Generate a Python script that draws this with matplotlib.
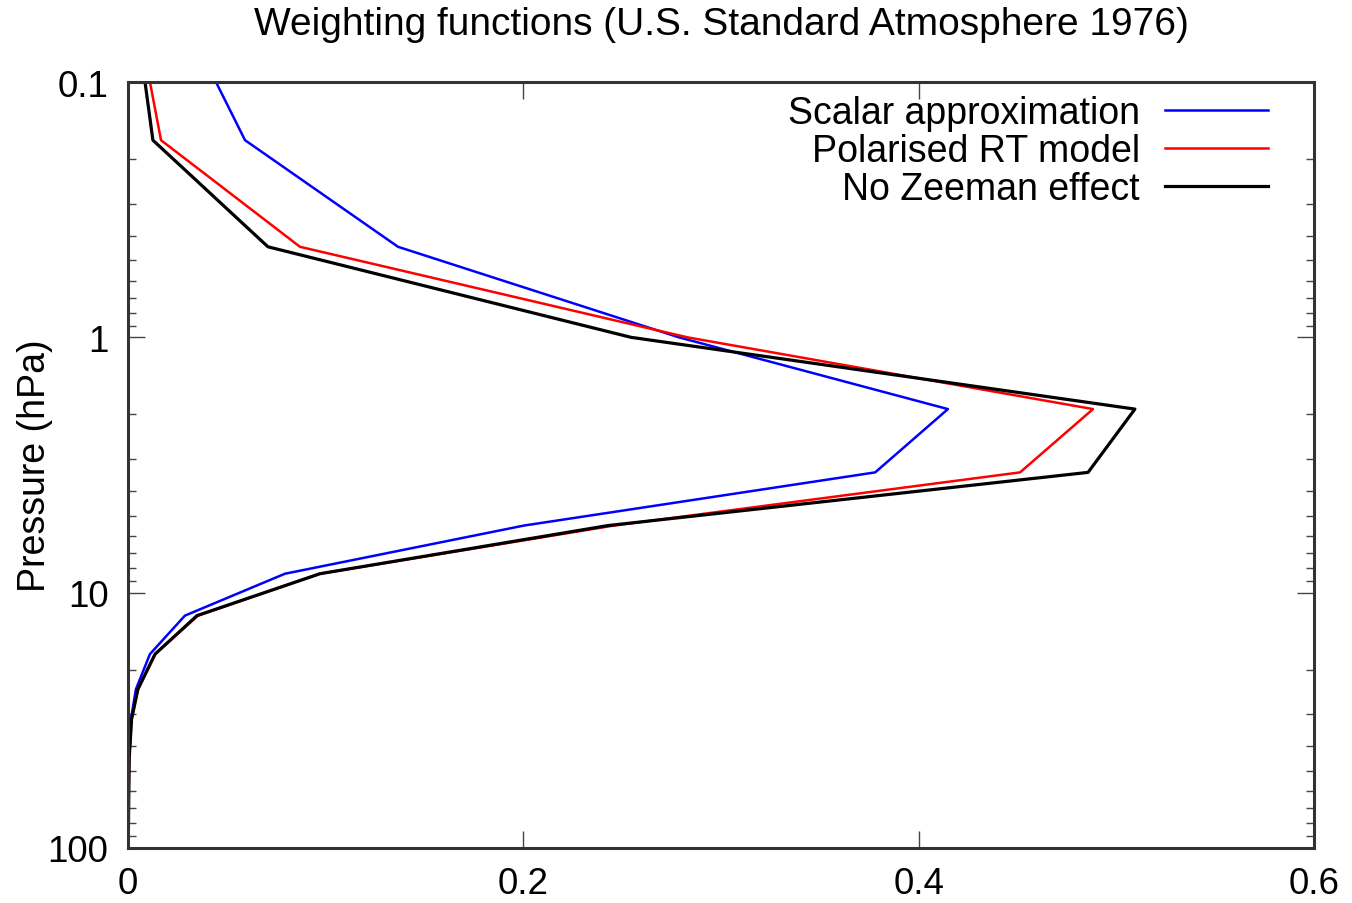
import matplotlib
matplotlib.use("Agg")
import matplotlib.pyplot as plt
from matplotlib.ticker import FixedLocator, LogLocator, NullFormatter

# pressure levels (hPa)
pressure = [0.1, 0.169, 0.442, 1.0, 1.91, 3.38, 5.46, 8.43, 12.3, 17.4, 23.9, 31.3, 44.7, 100]

# weighting function values for each model
scalar = [0.0445, 0.0592, 0.1366, 0.2787, 0.4148, 0.378, 0.2003, 0.0794, 0.0288, 0.0111, 0.004, 0.0015, 0.0005, 0.0001]
polarised = [0.0111, 0.0167, 0.087, 0.283, 0.4882, 0.4513, 0.2458, 0.0971, 0.0354, 0.0137, 0.005, 0.0018, 0.0006, 0.0001]
no_zeeman = [0.0086, 0.0126, 0.0708, 0.2545, 0.5094, 0.4857, 0.2428, 0.0971, 0.0349, 0.0137, 0.005, 0.0018, 0.0006, 0.0001]

labels = ["Scalar approximation", "Polarised RT model", "No Zeeman effect"]
colors = ["#0000ff", "#ff0000", "#000000"]

xticks = [0, 0.2, 0.4, 0.6]
xticklabels = ["0", "0.2", "0.4", "0.6"]
yticks = [0.1, 1, 10, 100]
yticklabels = ["0.1", "1", "10", "100"]

plt.rcParams['font.family'] = ['Liberation Sans', 'DejaVu Sans']
fs = 27

fig = plt.figure(figsize=(13.52, 9.04), dpi=100)
ax = fig.add_axes([128 / 1352, 1 - 849 / 904, 1186 / 1352, 766 / 904])

series = [scalar, polarised, no_zeeman]
widths = [1.8, 1.8, 2.3]
for vals, lab, col, lw in zip(series, labels, colors, widths):
    ax.plot(vals, pressure, color=col, lw=lw, label=lab)

ax.set_yscale("log")
ax.set_ylim(100, 0.1)
ax.set_xlim(0, 0.6)

ax.set_xticks(xticks)
ax.set_xticklabels(xticklabels)
ax.yaxis.set_major_locator(FixedLocator(yticks))
ax.yaxis.set_minor_locator(LogLocator(base=10, subs=range(2, 10)))
ax.yaxis.set_minor_formatter(NullFormatter())
ax.set_yticklabels(yticklabels)

ax.tick_params(which="both", direction="in", top=True, right=True, width=1, color="#444444")
ax.tick_params(which="major", length=12, labelsize=26.5)
ax.tick_params(axis="x", which="major", pad=13)
ax.tick_params(axis="y", which="major", pad=14)
ax.tick_params(which="minor", length=6)
for sp in ax.spines.values():
    sp.set_linewidth(2.2)
    sp.set_color("#333333")

ax.set_ylabel("Pressure (hPa)", fontsize=fs)
ax.yaxis.set_label_coords((53 - 128) / 1186, 0.5)
fig.text(721 / 1352, 1 - 25 / 904, "Weighting functions (U.S. Standard Atmosphere 1976)",
         fontsize=28, ha="center", va="center")

ax.legend(loc="upper right", bbox_to_anchor=((1268 - 128) / 1186, 1 - (96 - 83) / 766),
          frameon=False, markerfirst=False, fontsize=fs, handlelength=2.75,
          handletextpad=0.67, labelspacing=0.05, borderpad=0, borderaxespad=0)

fig.savefig("out.png", dpi=100)
